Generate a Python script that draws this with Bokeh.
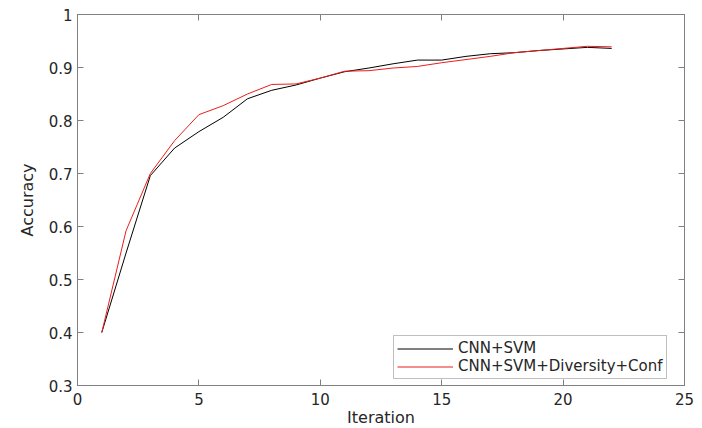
from bokeh.plotting import figure
from bokeh.models import Range1d, LinearAxis, Legend, LegendItem, FixedTicker
from bokeh.embed import file_html
from bokeh.resources import INLINE

iterations = list(range(1, 23))
cnn_svm = [0.400, 0.550, 0.696, 0.748, 0.779, 0.806, 0.841, 0.857, 0.867, 0.880, 0.892,
           0.899, 0.907, 0.914, 0.914, 0.921, 0.926, 0.928, 0.932, 0.935, 0.938, 0.936]
cnn_svm_div_conf = [0.400, 0.592, 0.700, 0.762, 0.811, 0.828, 0.850, 0.868, 0.869, 0.880, 0.893,
                    0.894, 0.899, 0.902, 0.909, 0.915, 0.921, 0.928, 0.932, 0.936, 0.940, 0.939]
x_ticks = [0, 5, 10, 15, 20, 25]
y_ticks = [0.3, 0.4, 0.5, 0.6, 0.7, 0.8, 0.9, 1.0]
y_tick_labels = ["0.3", "0.4", "0.5", "0.6", "0.7", "0.8", "0.9", "1"]

FONT = "DejaVu Sans"
AX = "#808080"
TXT = "#262626"

p = figure(frame_width=607, frame_height=371, output_backend="svg", toolbar_location=None,
           x_range=Range1d(0, 25), y_range=Range1d(0.3, 1.0),
           min_border_left=77, min_border_top=14, min_border_right=10, min_border_bottom=5,
           background_fill_color="white", border_fill_color="white")
p.grid.visible = False
p.outline_line_color = AX

for ax in (p.xaxis[0], p.yaxis[0]):
    ax.axis_line_color = AX
    ax.major_tick_line_color = AX
    ax.major_tick_in = 6
    ax.major_tick_out = 0
    ax.minor_tick_line_color = None
    ax.major_label_text_font = FONT
    ax.major_label_text_font_size = "15px"
    ax.major_label_text_color = TXT
    ax.axis_label_text_font = FONT
    ax.axis_label_text_font_size = "16px"
    ax.axis_label_text_font_style = "normal"
    ax.axis_label_text_color = TXT

p.xaxis[0].ticker = FixedTicker(ticks=x_ticks)
p.yaxis[0].ticker = FixedTicker(ticks=y_ticks)
p.xaxis[0].major_label_overrides = {t: str(t) for t in x_ticks}
p.yaxis[0].major_label_overrides = dict(zip(y_ticks, y_tick_labels))
p.xaxis[0].axis_label = "Iteration"
p.yaxis[0].axis_label = "Accuracy"
p.xaxis[0].major_label_standoff = 7
p.yaxis[0].major_label_standoff = 5
p.xaxis[0].axis_label_standoff = 0
p.yaxis[0].axis_label_standoff = 9

top = LinearAxis(ticker=FixedTicker(ticks=x_ticks),
                 major_label_overrides={t: "" for t in x_ticks},
                 major_label_standoff=0, major_tick_in=6, major_tick_out=0,
                 minor_tick_line_color=None, axis_line_color=AX, major_tick_line_color=AX)
right = LinearAxis(ticker=FixedTicker(ticks=y_ticks),
                   major_label_overrides={t: "" for t in y_ticks},
                   major_label_standoff=0, major_tick_in=6, major_tick_out=0,
                   minor_tick_line_color=None, axis_line_color=AX, major_tick_line_color=AX)
p.add_layout(top, "above")
p.add_layout(right, "right")

r1 = p.line(iterations, cnn_svm, line_color="black", line_width=1)
r2 = p.line(iterations, cnn_svm_div_conf, line_color="#ee1c1c", line_width=1)

legend = Legend(items=[LegendItem(label="CNN+SVM", renderers=[r1]),
                       LegendItem(label="CNN+SVM+Diversity+Conf", renderers=[r2])],
                location=(316, 6), orientation="vertical",
                label_text_font=FONT, label_text_font_size="15px", label_text_color=TXT,
                glyph_width=56, glyph_height=17, label_height=17, label_standoff=5,
                padding=3, spacing=0, margin=0,
                border_line_color=AX, border_line_width=1,
                background_fill_color="white", background_fill_alpha=1.0)
p.add_layout(legend, "center")

open("out.html", "w").write(file_html(p, INLINE))
